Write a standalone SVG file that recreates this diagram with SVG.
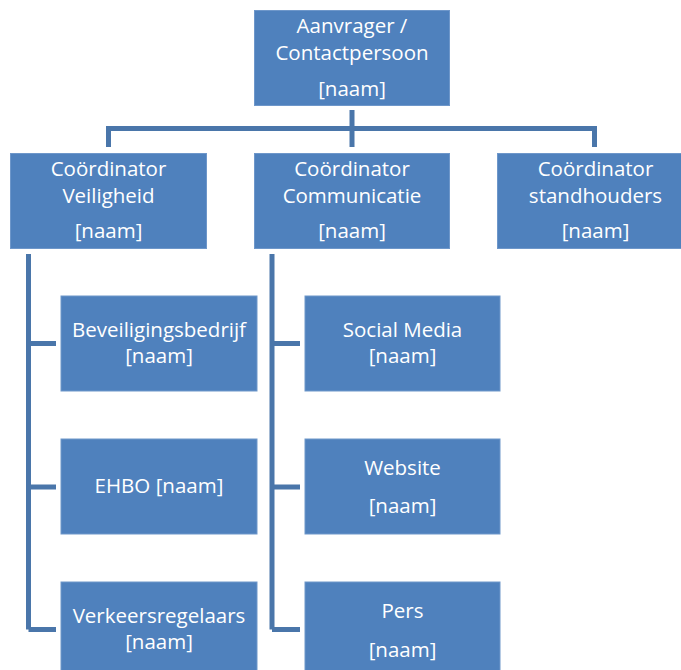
<svg xmlns="http://www.w3.org/2000/svg" width="681" height="670" viewBox="0 0 681 670">
<style>
.box{fill:#4F81BD;stroke:#6E97CA;stroke-width:1}
.t{font-family:"Open Sans","Liberation Sans",sans-serif;font-size:20.5px;fill:#FFFFFF;text-anchor:middle}
.c{fill:none;stroke:#4A76AA;stroke-width:5;stroke-linejoin:miter}
</style>
<rect width="681" height="670" fill="#FFFFFF"/>
<g id="connectors">
<path class="c" d="M352 110 V147 M108.5 147 V128.5 H594.5 V147"/>
<path class="c" d="M28.5 254 V629.5 M28.5 343.5 H56 M28.5 487 H56 M28.5 629.5 H56"/>
<path class="c" d="M272 254 V629.5 M272 343.5 H300 M272 487 H300 M272 629.5 H300"/>
</g>
<g id="n-aanvrager">
<rect class="box" x="254.5" y="10.5" width="195" height="95"/>
<text class="t" x="352" y="33">Aanvrager /</text>
<text class="t" x="352" y="60">Contactpersoon</text>
<text class="t" x="352" y="96">[naam]</text>
</g>
<g id="n-veiligheid">
<rect class="box" x="10.5" y="153.5" width="196" height="95"/>
<text class="t" x="108.5" y="176">Coördinator</text>
<text class="t" x="108.5" y="203">Veiligheid</text>
<text class="t" x="108.5" y="238">[naam]</text>
</g>
<g id="n-communicatie">
<rect class="box" x="254.5" y="153.5" width="195" height="95"/>
<text class="t" x="352" y="176">Coördinator</text>
<text class="t" x="352" y="203">Communicatie</text>
<text class="t" x="352" y="238">[naam]</text>
</g>
<g id="n-standhouders">
<rect class="box" x="497.5" y="153.5" width="196" height="95"/>
<text class="t" x="595.5" y="176">Coördinator</text>
<text class="t" x="595.5" y="203">standhouders</text>
<text class="t" x="595.5" y="238">[naam]</text>
</g>
<g id="n-beveiliging">
<rect class="box" x="61" y="296" width="196" height="95"/>
<text class="t" x="159" y="337">Beveiligingsbedrijf</text>
<text class="t" x="159" y="363">[naam]</text>
</g>
<g id="n-ehbo">
<rect class="box" x="61" y="439" width="196" height="95"/>
<text class="t" x="159" y="493">EHBO [naam]</text>
</g>
<g id="n-verkeer">
<rect class="box" x="61" y="582" width="196" height="95"/>
<text class="t" x="159" y="623">Verkeersregelaars</text>
<text class="t" x="159" y="649">[naam]</text>
</g>
<g id="n-social">
<rect class="box" x="305" y="296" width="195" height="95"/>
<text class="t" x="402.5" y="337">Social Media</text>
<text class="t" x="402.5" y="363">[naam]</text>
</g>
<g id="n-website">
<rect class="box" x="305" y="439" width="195" height="95"/>
<text class="t" x="402.5" y="475">Website</text>
<text class="t" x="402.5" y="513">[naam]</text>
</g>
<g id="n-pers">
<rect class="box" x="305" y="582" width="195" height="95"/>
<text class="t" x="402.5" y="618">Pers</text>
<text class="t" x="402.5" y="657">[naam]</text>
</g>
</svg>
